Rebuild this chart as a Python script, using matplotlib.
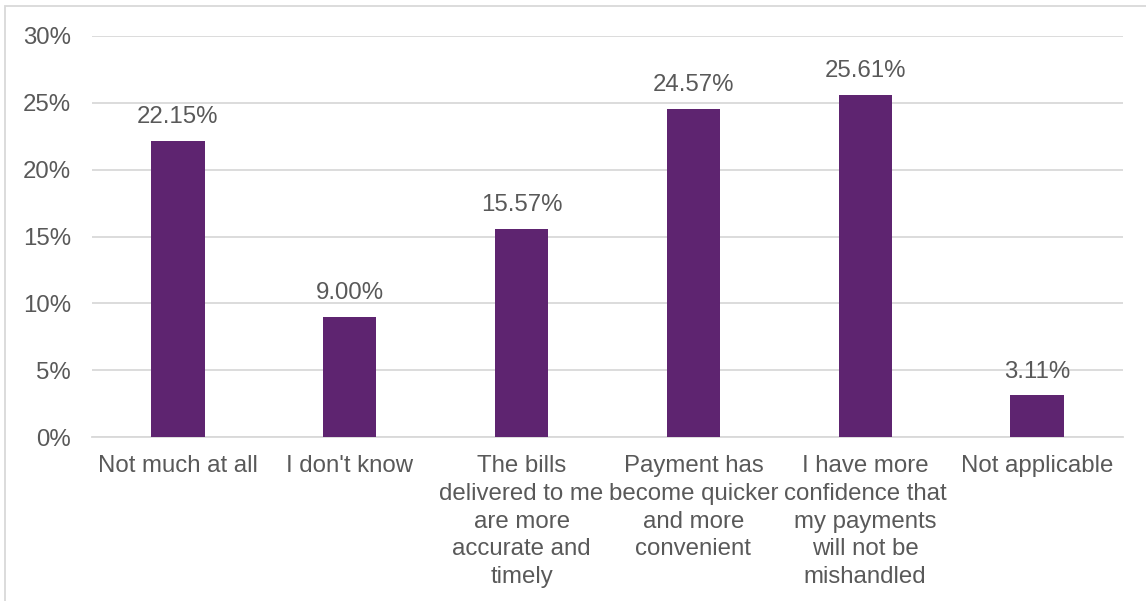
import matplotlib.pyplot as plt
from matplotlib.patches import Rectangle
from matplotlib.ticker import MultipleLocator, FuncFormatter

categories = [
    "Not much at all",
    "I don't know",
    "The bills\ndelivered to me\nare more\naccurate and\ntimely",
    "Payment has\nbecome quicker\nand more\nconvenient",
    "I have more\nconfidence that\nmy payments\nwill not be\nmishandled",
    "Not applicable",
]
values = [22.15, 9.00, 15.57, 24.57, 25.61, 3.11]

bar_color = "#5E2470"
text_color = "#595959"
grid_color = "#D9D9D9"
fs = 17.3

plt.rcParams["font.family"] = ["Liberation Sans", "DejaVu Sans"]

fig = plt.figure(figsize=(11.46, 6.01), dpi=100)
ax = fig.add_axes([92 / 1146, 1 - 437 / 601, 1031 / 1146, 401 / 601])

x = range(len(categories))
bars = ax.bar(x, values, width=0.31, color=bar_color, zorder=3)

for b, v in zip(bars, values):
    ax.annotate(f"{v:.2f}%", (b.get_x() + b.get_width() / 2, v),
                xytext=(0, 9), textcoords="offset points",
                ha="center", va="bottom", fontsize=fs, color=text_color)

ax.set_xlim(-0.5, len(categories) - 0.5)
ax.set_ylim(0, 30)
ax.yaxis.set_major_locator(MultipleLocator(5))
ax.yaxis.set_major_formatter(FuncFormatter(lambda v, _: f"{v:.0f}%"))
ax.grid(axis="y", color=grid_color, linewidth=1.3, zorder=0)

ax.set_xticks(list(x))
ax.set_xticklabels(categories, fontsize=fs, color=text_color, linespacing=1.34)
ax.tick_params(axis="x", length=0, pad=13)
ax.tick_params(axis="y", length=0, pad=15, labelsize=fs, labelcolor=text_color)

for side in ["top", "right", "left"]:
    ax.spines[side].set_visible(False)
ax.spines["bottom"].set_color(grid_color)
ax.spines["bottom"].set_linewidth(1.3)

# thin frame around the chart area
fig.patches.append(Rectangle((5 / 1146, -0.1), 1.2, 1 - 6 / 601 + 0.1,
                             transform=fig.transFigure, fill=False,
                             edgecolor=grid_color, linewidth=1.3))

fig.savefig("out.png", dpi=100)
